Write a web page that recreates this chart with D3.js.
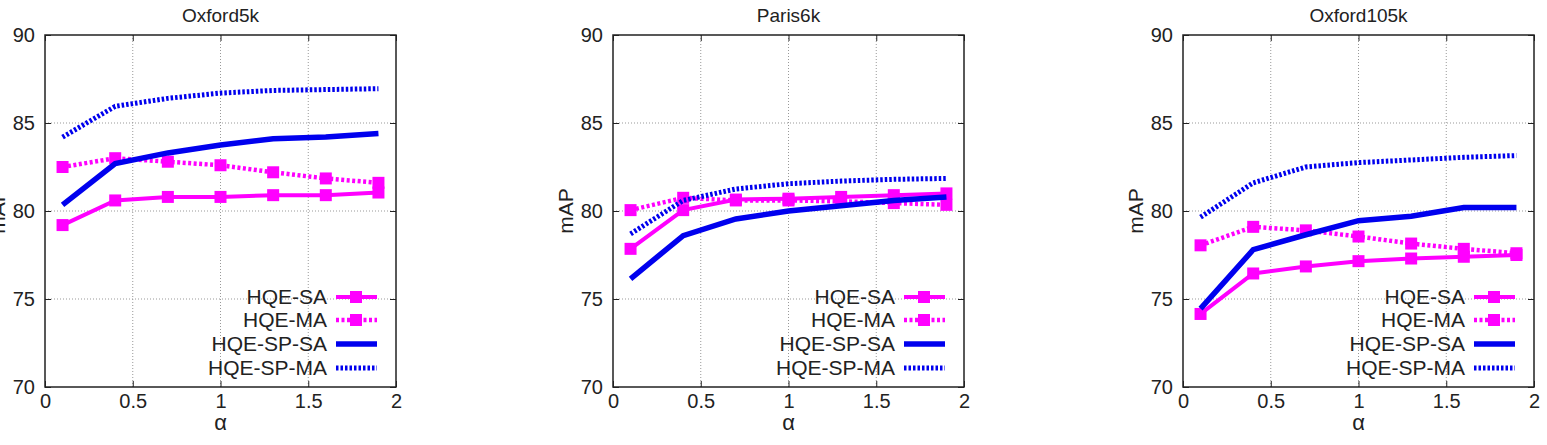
<!doctype html>
<html>
<head>
<meta charset="utf-8">
<script src="https://d3js.org/d3.v7.min.js"></script>
<style>
  body { margin: 0; background: #fff; }
  text { font-family: "Liberation Sans", Arial, sans-serif; fill: #222; }
</style>
</head>
<body>
<script>
// data
var alphas = [0.1, 0.4, 0.7, 1.0, 1.3, 1.6, 1.9];
var seriesNames = ['HQE-SA', 'HQE-MA', 'HQE-SP-SA', 'HQE-SP-MA'];
var xTicks = [0, 0.5, 1, 1.5, 2];
var yTicks = [70, 75, 80, 85, 90];

var oxford5k = [
  [79.2, 80.6, 80.8, 80.8, 80.9, 80.9, 81.05],
  [82.5, 83.0, 82.8, 82.6, 82.2, 81.85, 81.6],
  [80.35, 82.7, 83.3, 83.75, 84.1, 84.2, 84.4],
  [84.2, 85.95, 86.4, 86.7, 86.85, 86.9, 86.95]
];
var paris6k = [
  [77.85, 80.05, 80.65, 80.7, 80.8, 80.9, 81.0],
  [80.05, 80.75, 80.6, 80.6, 80.55, 80.45, 80.35],
  [76.15, 78.6, 79.55, 80.0, 80.3, 80.6, 80.8],
  [78.7, 80.6, 81.25, 81.55, 81.7, 81.8, 81.85]
];
var oxford105k = [
  [74.15, 76.45, 76.85, 77.15, 77.3, 77.4, 77.5],
  [78.05, 79.1, 78.9, 78.55, 78.15, 77.85, 77.6],
  [74.45, 77.8, 78.65, 79.45, 79.7, 80.2, 80.2],
  [79.65, 81.6, 82.5, 82.75, 82.9, 83.05, 83.15]
];

var panels = [
  {title: 'Oxford5k', left: 45, values: oxford5k},
  {title: 'Paris6k', left: 613, values: paris6k},
  {title: 'Oxford105k', left: 1183, values: oxford105k}
];

// style of each series
var colors = ['#ff00ff', '#ff00ff', '#0000ee', '#0000ee'];
var widths = [4, 4.5, 5.5, 5];
var dashes = [null, '3,2.5', null, '2.5,2'];
var markers = [true, true, false, false];

var W = 1547, H = 445;
var plotW = 351, plotTop = 35, plotBottom = 387;

var svg = d3.select('body').append('svg')
  .attr('width', W).attr('height', H);

panels.forEach(function(p) {
  var x = d3.scaleLinear().domain([0, 2]).range([p.left, p.left + plotW]);
  var y = d3.scaleLinear().domain([70, 90]).range([plotBottom, plotTop]);
  var g = svg.append('g');

  // grid
  g.selectAll('.vgrid').data(xTicks.slice(1, -1)).enter().append('line')
    .attr('x1', function(d) { return x(d); }).attr('x2', function(d) { return x(d); })
    .attr('y1', plotTop).attr('y2', plotBottom)
    .attr('stroke', '#999').attr('stroke-width', 1).attr('stroke-dasharray', '1,2');
  g.selectAll('.hgrid').data(yTicks.slice(1, -1)).enter().append('line')
    .attr('y1', function(d) { return y(d); }).attr('y2', function(d) { return y(d); })
    .attr('x1', p.left).attr('x2', p.left + plotW)
    .attr('stroke', '#999').attr('stroke-width', 1).attr('stroke-dasharray', '1,2');

  // axes with inward ticks, mirrored
  g.append('g').attr('transform', 'translate(0,' + plotBottom + ')')
    .call(d3.axisBottom(x).tickValues(xTicks).tickSize(-6).tickPadding(7).tickFormat(d3.format('')))
    .call(function(a) { a.select('.domain').remove(); });
  g.append('g').attr('transform', 'translate(0,' + plotTop + ')')
    .call(d3.axisTop(x).tickValues(xTicks).tickSize(-6).tickFormat(''))
    .call(function(a) { a.select('.domain').remove(); });
  g.append('g').attr('transform', 'translate(' + p.left + ',0)')
    .call(d3.axisLeft(y).tickValues(yTicks).tickSize(-6).tickPadding(10))
    .call(function(a) { a.select('.domain').remove(); });
  g.append('g').attr('transform', 'translate(' + (p.left + plotW) + ',0)')
    .call(d3.axisRight(y).tickValues(yTicks).tickSize(-6).tickFormat(''))
    .call(function(a) { a.select('.domain').remove(); });
  g.selectAll('.tick text').style('font-size', '20px').style('font-family', '"Liberation Sans", Arial, sans-serif').attr('fill', '#222');
  g.selectAll('.tick line').attr('stroke', '#222');

  g.append('rect')
    .attr('x', p.left).attr('y', plotTop)
    .attr('width', plotW).attr('height', plotBottom - plotTop)
    .attr('fill', 'none').attr('stroke', '#222').attr('stroke-width', 1.5);

  // titles
  g.append('text').attr('x', p.left + plotW / 2).attr('y', 22)
    .attr('text-anchor', 'middle').style('font-size', '19px').text(p.title);
  g.append('text').attr('x', p.left + plotW / 2).attr('y', 430)
    .attr('text-anchor', 'middle').style('font-size', '22px').text('α');
  g.append('text')
    .attr('transform', 'translate(' + (p.left - 40) + ',' + ((plotTop + plotBottom) / 2) + ') rotate(-90)')
    .attr('text-anchor', 'middle').style('font-size', '21px').text('mAP');

  // series
  var line = d3.line()
    .x(function(d, i) { return x(alphas[i]); })
    .y(function(d) { return y(d); });

  p.values.forEach(function(vals, s) {
    g.append('path').datum(vals)
      .attr('d', line)
      .attr('fill', 'none')
      .attr('stroke', colors[s])
      .attr('stroke-width', widths[s])
      .attr('stroke-dasharray', dashes[s]);
    if (markers[s]) {
      g.selectAll('.m' + s).data(vals).enter().append('rect')
        .attr('x', function(d, i) { return x(alphas[i]) - 6; })
        .attr('y', function(d) { return y(d) - 6; })
        .attr('width', 12).attr('height', 12)
        .attr('fill', colors[s]);
    }
  });

  // legend
  var lx = p.left + 291, ly = [297, 320, 344, 368];
  seriesNames.forEach(function(name, s) {
    g.append('text').attr('x', lx - 9).attr('y', ly[s] + 7)
      .attr('text-anchor', 'end').style('font-size', '21px').text(name);
    g.append('line')
      .attr('x1', lx).attr('x2', lx + 41)
      .attr('y1', ly[s]).attr('y2', ly[s])
      .attr('stroke', colors[s]).attr('stroke-width', widths[s])
      .attr('stroke-dasharray', dashes[s]);
    if (markers[s]) {
      g.append('rect').attr('x', lx + 14).attr('y', ly[s] - 6)
        .attr('width', 12).attr('height', 12).attr('fill', colors[s]);
    }
  });
});
</script>
</body>
</html>
